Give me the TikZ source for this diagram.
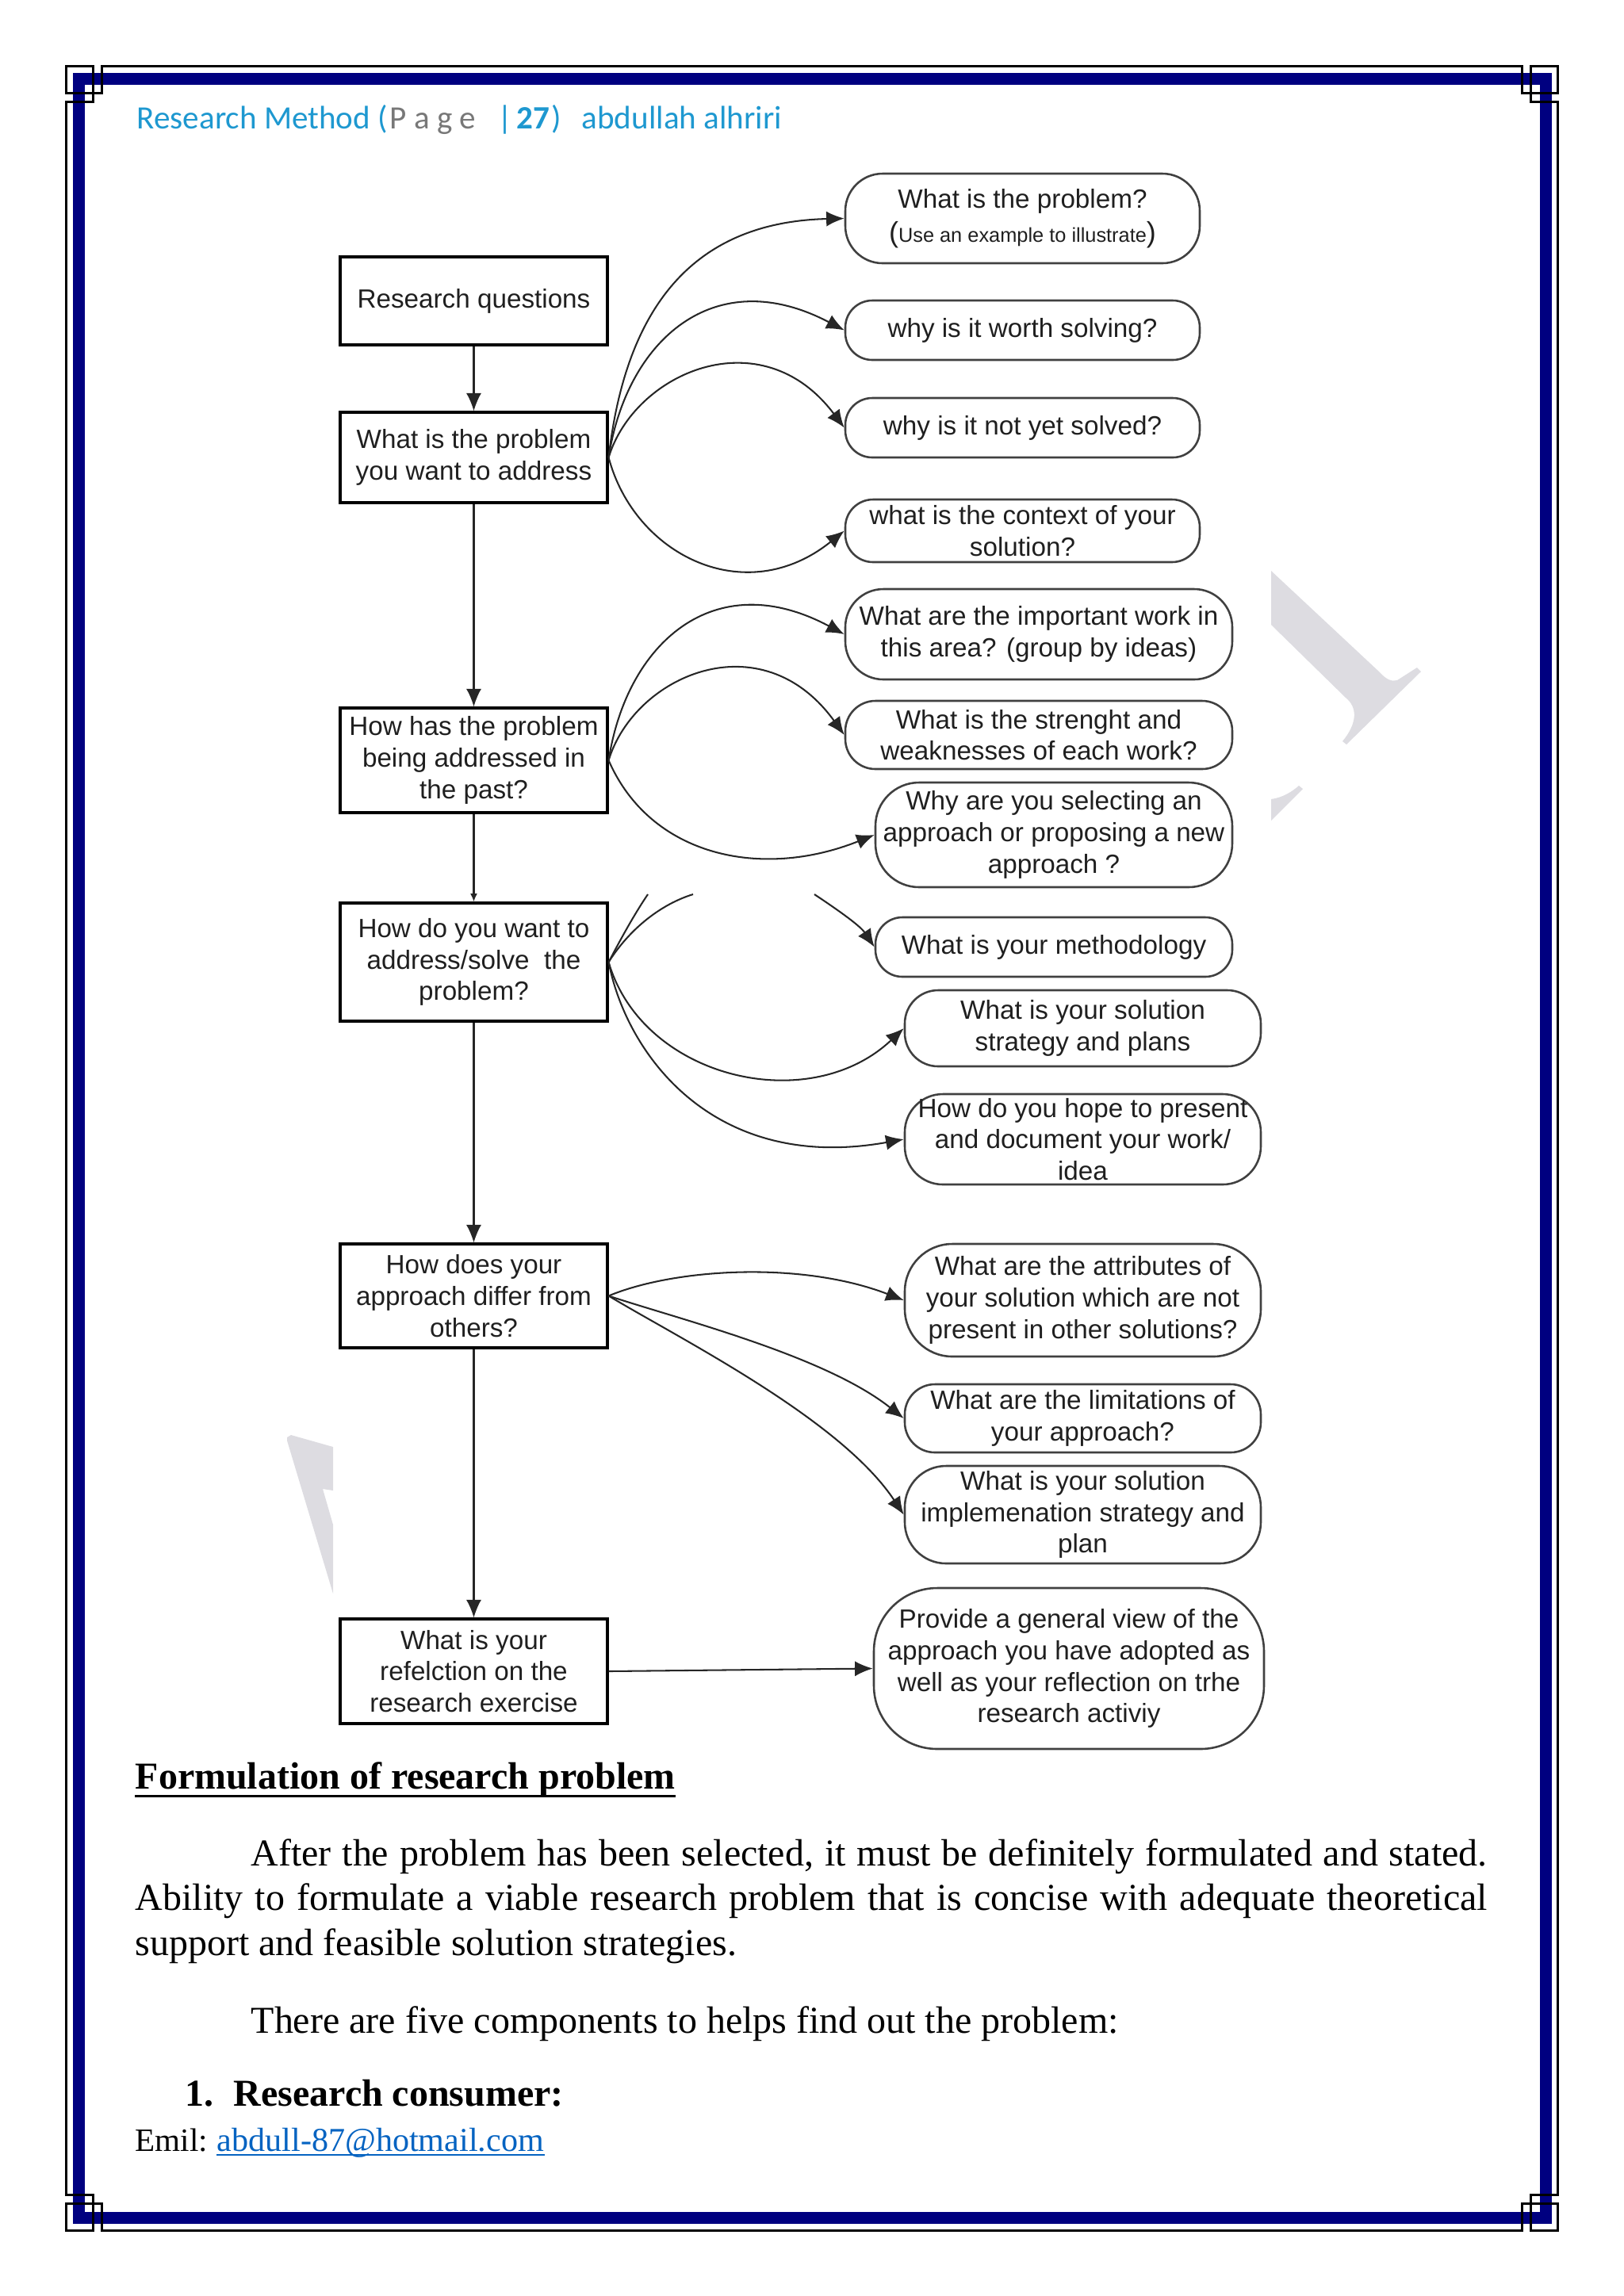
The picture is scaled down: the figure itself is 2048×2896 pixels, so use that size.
\documentclass[tikz,border=0pt]{standalone}
\usepackage{fontspec}
\setmainfont{Liberation Serif}
\newfontfamily\diagfont{Liberation Sans}
\newfontfamily\headfont{Carlito}
\usetikzlibrary{arrows.meta,calc}
\newlength\pxu
\setlength\pxu{0.10254mm}
\definecolor{navyb}{RGB}{0,0,128}
\definecolor{headc}{RGB}{30,152,208}
\definecolor{headg}{RGB}{120,120,120}
\definecolor{wmark}{RGB}{221,220,225}
\definecolor{linkc}{RGB}{5,99,193}
\newcommand\dfont{\diagfont\fontsize{9.7pt}{11.6pt}\selectfont}
\newcommand\hfont{\headfont\fontsize{12pt}{14pt}\selectfont}
\newcommand\bfont{\fontsize{14pt}{16.5pt}\selectfont}
\begin{document}
\begin{tikzpicture}[x=\pxu,y=-\pxu,
  dbox/.style={draw=black, line width=0.9pt, minimum width=337\pxu, minimum height=#1\pxu, inner sep=0pt, align=center, font=\dfont, text=black!88},
  qell/.style n args={3}{draw=black!75, line width=0.75pt, minimum width=#1\pxu, minimum height=#2\pxu, rounded corners=#3\pxu, inner sep=0pt, align=center, font=\dfont, text=black!88},
  arr/.style={line width=0.6pt, draw=black!85, -{Latex[length=6.6pt,width=5.6pt]}},
  txt/.style={anchor=base west, inner sep=0pt},
]
\useasboundingbox (0,0) rectangle (2048,2896);

% page border
\draw[navyb, line width=15\pxu] (99.5,99.5) rectangle (1949.5,2797.5);
\draw[black, line width=3\pxu]
  (117,117)--(128,117)--(128,83)--(1919,83)--(1919,117)--(1930,117)
  --(1930,128)--(1964,128)--(1964,2768)--(1930,2768)--(1930,2779)
  --(1919,2779)--(1919,2813)--(128,2813)--(128,2779)--(117,2779)
  --(117,2768)--(83,2768)--(83,128)--(117,128)--cycle;
\draw[black, line width=3\pxu] (83,83) rectangle (117,117);
\draw[black, line width=3\pxu] (1930,83) rectangle (1964,117);
\draw[black, line width=3\pxu] (83,2779) rectangle (117,2813);
\draw[black, line width=3\pxu] (1930,2779) rectangle (1964,2813);

% watermark fragments
\fill[wmark] (1603,720) -- (1740,848) .. controls (1748,857) and (1755,860) .. (1762,858) -- (1787,842) -- (1792,847) -- (1698,939) -- (1693,935) .. controls (1712,912) and (1712,892) .. (1697,880) -- (1603,788) -- cycle;
\fill[wmark] (1603,1008) .. controls (1618,1006) and (1630,998) .. (1638,991) -- (1643,995) -- (1603,1035) -- cycle;
\fill[wmark] (362,1813) -- (367,1810) -- (420,1825) -- (420,1880) -- (407,1878) -- (420,1923) -- (420,2010) -- (362,1817) -- cycle;

% header
\node[txt, font=\hfont, text=headc] (h1) at (172,162) {Research Method (};
\node[txt, font=\hfont, text=headg] (h2) at (491,162) {P a g e};
\node[txt, font=\hfont, text=headc] (h3) at (627,162) {|};
\node[txt, font=\hfont\bfseries, text=headc] (h4) at (651,162) {27};
\node[txt, font=\hfont, text=headc] (h5) at (695,162) {)};
\node[txt, font=\hfont, text=headc] (h6) at (733,162) {abdullah alhriri};

% left column boxes
\node[dbox=111] (RQ) at (597.5,379.5) {Research questions};
\node[dbox=114] (B2) at (597.5,577) {What is the problem\\you want to address};
\node[dbox=132] (B3) at (597.5,959) {How has the problem\\being addressed in\\the past?};
\node[dbox=149] (B4) at (597.5,1213.5) {How do you want to\\address/solve\ \ the\\problem?};
\node[dbox=131] (B5) at (597.5,1634.5) {How does your\\approach differ from\\others?};
\node[dbox=132] (B6) at (597.5,2108) {What is your\\refelction on the\\research exercise};

% right column rounded nodes
\node[qell={447}{113}{47}] (E1) at (1289.5,275.5) {What is the problem?\\[1pt]{\fontsize{10.5pt}{12pt}\selectfont(}{\fontsize{7.4pt}{9pt}\selectfont Use an example to illustrate}{\fontsize{10.5pt}{12pt}\selectfont)}};
\node[qell={447}{75}{34}] (E2) at (1289.5,416.5) {why is it worth solving?};
\node[qell={447}{75}{34}] (E3) at (1289.5,539.5) {why is it not yet solved?};
\node[qell={447}{79}{35}] (E4) at (1289.5,669.5) {what is the context of your\\solution?};
\node[qell={488}{114}{48}] (E5) at (1310,800) {What are the important work in\\this area? (group by ideas)};
\node[qell={488}{86}{38}] (E6) at (1310,927) {What is the strenght and\\weaknesses of each work?};
\node[qell={450}{132}{55}] (E7) at (1329,1053) {Why are you selecting an\\approach or proposing a new\\approach ?};
\node[qell={450}{75}{34}] (E8) at (1329,1194.5) {What is your methodology};
\node[qell={449}{96}{42}] (E9) at (1365.5,1297) {What is your solution\\strategy and plans};
\node[qell={449}{114}{48}] (E10) at (1365.5,1437) {How do you hope to present\\and document your work/\\idea};
\node[qell={449}{142}{60}] (E11) at (1365.5,1640) {What are the attributes of\\your solution which are not\\present in other solutions?};
\node[qell={449}{86}{38}] (E12) at (1365.5,1789) {What are the limitations of\\your approach?};
\node[qell={449}{123}{52}] (E13) at (1365.5,1910.5) {What is your solution\\implemenation strategy and\\plan};
\node[qell={492}{203}{80}] (E14) at (1348,2104.5) {Provide a general view of the\\approach you have adopted as\\well as your reflection on trhe\\research activiy};

% vertical arrows
\draw[arr] (RQ.south) -- (B2.north);
\draw[arr] (B2.south) -- (B3.north);
\draw[line width=0.6pt, draw=black!85, -{Latex[length=3pt,width=2.6pt]}] (B3.south) -- (B4.north);
\draw[arr] (B4.south) -- (B5.north);
\draw[arr] (B5.south) -- (B6.north);

% curves from B2
\draw[arr] (B2.east) .. controls (790,380) and (880,280) .. (E1.west);
\draw[arr] (B2.east) .. controls (790,430) and (900,330) .. (E2.west);
\draw[arr] (B2.east) .. controls (800,470) and (960,400) .. (E3.west);
\draw[arr] (B2.east) .. controls (800,700) and (940,770) .. (E4.west);
% curves from B3
\draw[arr] (B3.east) .. controls (790,812) and (900,712) .. (E5.west);
\draw[arr] (B3.east) .. controls (800,852) and (960,782) .. (E6.west);
\draw[arr] (B3.east) .. controls (820,1080) and (960,1110) .. (E7.west);
% curves from B4 (partly hidden)
\coordinate (cutA) at (874,1128);
\coordinate (cutB) at (817,1128);
\coordinate (cutC) at (1027,1128);
\draw[line width=0.6pt, draw=black!85] (B4.east) .. controls (795,1170) and (835,1140) .. (cutA);
\draw[line width=0.6pt, draw=black!85] (B4.east) .. controls (785,1180) and (802,1150) .. (cutB);
\draw[arr] (cutC) .. controls (1060,1150) and (1085,1168) .. (E8.west);
\draw[arr] (B4.east) .. controls (810,1360) and (1020,1410) .. (E9.west);
\draw[arr] (B4.east) .. controls (790,1330) and (900,1480) .. (E10.west);
% curves from B5
\draw[arr] (B5.east) .. controls (850,1600) and (1010,1590) .. (E11.west);
\draw[arr] (B5.east) .. controls (860,1665) and (1040,1710) .. (E12.west);
\draw[arr] (B5.east) .. controls (860,1690) and (1060,1790) .. (E13.west);
% B6
\draw[arr] (B6.east) -- (E14.west);

% body text
\node[txt, font=\bfont\bfseries] (hd) at (170,2256) {Formulation of research problem};
\draw[line width=3\pxu] ($(hd.base west)+(0,9)$) -- ($(hd.base east)+(0,9)$);
\node[txt, font=\bfont] (p1) at (316,2353) {\makebox[1559\pxu][s]{After the problem has been selected, it must be definitely formulated and stated.}};
\node[txt, font=\bfont] (p2) at (170,2409) {\makebox[1705\pxu][s]{Ability to formulate a viable research problem that is concise with adequate theoretical}};
\node[txt, font=\bfont] (p3) at (170,2466) {support and feasible solution strategies.};
\node[txt, font=\bfont] (p4) at (316,2564) {There are five components to helps find out the problem:};
\node[txt, font=\bfont\bfseries] (n1) at (233,2656) {1.};
\node[txt, font=\bfont\bfseries] (n2) at (294,2656) {Research consumer:};
\node[txt, font=\fontsize{12pt}{14pt}\selectfont] (em) at (170,2713) {Emil: };
\node[txt, font=\fontsize{12.3pt}{14pt}\selectfont, text=linkc] (lk) at (273,2713) {abdull-87@hotmail.com};
\draw[linkc, line width=2\pxu] ($(lk.base west)+(0,5)$) -- ($(lk.base east)+(0,5)$);
\end{tikzpicture}
\end{document}
